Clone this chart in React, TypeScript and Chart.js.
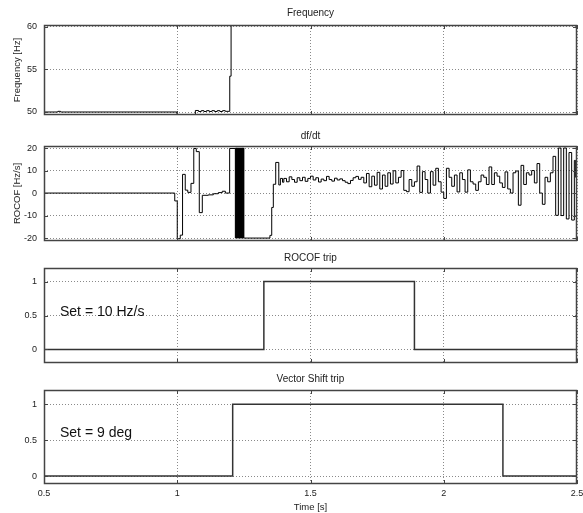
import React, { useEffect, useRef } from "react";
import { Chart, registerables } from "chart.js";

Chart.register(...registerables);

// ---------------- data ----------------
const timeTicks = [0.5, 1, 1.5, 2, 2.5];
const frequencyTicks = [50, 55, 60];
const rocofTicks = [-20, -10, 0, 10, 20];
const tripTicks = [0, 0.5, 1];

// [time s, frequency Hz] (value holds until next sample)
const frequencySamples: [number, number][] = [
  [0.5, 50.0], [0.552, 50.08], [0.562, 50.0], [0.999, 49.55], [1.055, 49.66], [1.068, 50.18],
  [1.08, 50.06], [1.09, 50.16], [1.1, 50.06], [1.11, 50.16], [1.12, 50.06], [1.13, 50.16],
  [1.14, 50.06], [1.15, 50.16], [1.16, 50.06], [1.17, 50.16], [1.18, 50.08], [1.197, 54.2],
  [1.202, 63.0],
];

// [time s, ROCOF Hz/s]
const rocofSamples: [number, number][] = [
  [0.5, 0], [0.9906, -3.5], [1.0, -20.3], [1.0113, -18.7], [1.0199, 8.3], [1.03, 1.3],
  [1.0395, 0.3], [1.0515, 4.3], [1.062, 19.8], [1.0714, 18.4], [1.0827, -8.7], [1.094, -1.0],
  [1.1165, -0.8], [1.1353, -0.3], [1.154, 0.2], [1.169, 0.8], [1.1805, 0.0], [1.1966, 19.8],
  [1.218, -20], [1.2195, 20], [1.221, -20], [1.2225, 20], [1.2245, -20], [1.226, 20],
  [1.2275, -20], [1.229, 20], [1.23, -20], [1.231, 20], [1.232, -20], [1.233, 20],
  [1.234, -20], [1.235, 20], [1.236, -20], [1.237, 20], [1.238, -20], [1.239, 20],
  [1.24, -20], [1.241, 20], [1.242, -20], [1.243, 20], [1.244, -20], [1.2455, 20],
  [1.247, -20], [1.2485, 20], [1.25, -20],
  [1.3477, -18.8], [1.3545, -6.4], [1.3605, 3.9], [1.3695, 13.6], [1.381, 3.6], [1.387, 6.5],
  [1.395, 4.8], [1.40, 6.5], [1.41, 5.0], [1.42, 7.2], [1.43, 6.0], [1.44, 4.8], [1.45, 6.8],
  [1.46, 5.5], [1.47, 7.0], [1.48, 5.2], [1.49, 6.5], [1.50, 7.5], [1.51, 5.8], [1.52, 6.8],
  [1.53, 4.9], [1.54, 6.2], [1.55, 5.5], [1.56, 7.4], [1.57, 6.0], [1.58, 5.3], [1.59, 6.6],
  [1.60, 5.8], [1.61, 6.3], [1.62, 5.5], [1.63, 4.8], [1.64, 4.2], [1.65, 5.6], [1.66, 6.8],
  [1.67, 7.4], [1.68, 6.1], [1.69, 7.0], [1.70, 4.5], [1.71, 8.7], [1.72, 2.8], [1.73, 7.5],
  [1.74, 3.5], [1.75, 9.2], [1.76, 1.8], [1.77, 8.0], [1.78, 3.0], [1.79, 9.0], [1.80, 4.0],
  [1.81, 9.9], [1.82, 4.5], [1.83, 7.0], [1.84, 10.0], [1.85, 1.2], [1.86, 0.6], [1.87, 6.0],
  [1.88, 3.0], [1.89, 5.0], [1.90, 12.0], [1.91, 0.3], [1.92, 9.5], [1.93, 6.0], [1.94, 0.0],
  [1.95, 9.5], [1.96, 3.5], [1.97, 11.0], [1.98, 5.0], [1.99, 0.4], [2.00, -2.4], [2.01, 11.0],
  [2.02, 7.0], [2.03, 3.0], [2.04, 8.0], [2.05, 0.5], [2.06, 9.0], [2.07, 6.0], [2.08, 0.4],
  [2.09, 10.3], [2.10, 5.0], [2.11, 4.0], [2.12, 1.2], [2.13, 5.0], [2.14, 8.0], [2.15, 7.0],
  [2.16, 3.8], [2.17, 11.6], [2.18, 3.8], [2.19, 9.0], [2.20, 7.5], [2.21, 4.5], [2.22, 2.5],
  [2.23, 9.4], [2.24, 1.8], [2.25, 0.0], [2.26, 9.0], [2.27, 9.8], [2.28, -5.4], [2.29, 12.3],
  [2.30, 3.8], [2.31, 9.0], [2.32, 8.0], [2.33, 10.0], [2.34, 4.5], [2.35, 13.1], [2.36, 0.0],
  [2.37, -5.0], [2.38, 7.0], [2.39, 5.0], [2.40, 9.0], [2.41, 16.3], [2.42, -9.9], [2.43, 20.0],
  [2.44, -10.0], [2.45, 20.0], [2.46, -11.5], [2.47, 18.0], [2.48, -12.0], [2.49, 14.5],
  [2.495, 7.0], [2.50, 12.0],
];

// [time s, trip signal]
const rocofTripSamples: [number, number][] = [[0.5, 0], [1.325, 1], [1.89, 0], [2.5, 0]];
const vectorShiftTripSamples: [number, number][] = [[0.5, 0], [1.208, 1], [2.222, 0], [2.5, 0]];

// ---------------- styling / layout ----------------
const FONT = "'Liberation Sans', Arial, Helvetica, sans-serif";
const TEXT = "#222";
const GRID = "#8a8a8a";
const FRAME = "#444";

type Spec = {
  title: string;
  samples: [number, number][];
  yMin: number;
  yMax: number;
  yTicks: number[];
  yTitle?: string;
  titleY: number;
  plotTop: number;
  plotBottom: number;
  lineColor: string;
  lineWidth: number;
  note?: { text: string; x: number; y: number };
  showTime?: boolean;
};

const specs: Spec[] = [
  {
    title: "Frequency", samples: frequencySamples, yMin: 49.65, yMax: 60.2, yTicks: frequencyTicks,
    yTitle: "Frequency [Hz]", titleY: 13, plotTop: 25, plotBottom: 115, lineColor: "#000", lineWidth: 1,
  },
  {
    title: "df/dt", samples: rocofSamples, yMin: -21.3, yMax: 20.9, yTicks: rocofTicks,
    yTitle: "ROCOF [Hz/s]", titleY: 136, plotTop: 146, plotBottom: 241, lineColor: "#000", lineWidth: 1,
  },
  {
    title: "ROCOF trip", samples: rocofTripSamples, yMin: -0.2, yMax: 1.2, yTicks: tripTicks,
    titleY: 258, plotTop: 268, plotBottom: 363, lineColor: "#333", lineWidth: 1.5,
    note: { text: "Set = 10 Hz/s", x: 0.56, y: 0.55 },
  },
  {
    title: "Vector Shift trip", samples: vectorShiftTripSamples, yMin: -0.11, yMax: 1.2, yTicks: tripTicks,
    titleY: 379, plotTop: 390, plotBottom: 484, lineColor: "#333", lineWidth: 1.5,
    note: { text: "Set = 9 deg", x: 0.56, y: 0.6 }, showTime: true,
  },
];

const framePlugin = {
  id: "frame",
  afterDatasetsDraw(chart: any, _args: any, opts: any) {
    const { ctx, chartArea: a, scales } = chart;
    ctx.save();
    ctx.strokeStyle = FRAME;
    ctx.lineWidth = 1;
    const tl = 4;
    ctx.beginPath();
    scales.x.ticks.forEach((t: any) => {
      const px = Math.round(scales.x.getPixelForValue(t.value)) + 0.5;
      ctx.moveTo(px, a.bottom);
      ctx.lineTo(px, a.bottom - tl);
      ctx.moveTo(px, a.top);
      ctx.lineTo(px, a.top + tl);
    });
    scales.y.ticks.forEach((t: any) => {
      const py = Math.round(scales.y.getPixelForValue(t.value)) + 0.5;
      ctx.moveTo(a.left, py);
      ctx.lineTo(a.left + tl, py);
      ctx.moveTo(a.right, py);
      ctx.lineTo(a.right - tl, py);
    });
    ctx.stroke();
    ctx.lineWidth = 1.5;
    ctx.strokeRect(Math.round(a.left) + 0.5, Math.round(a.top) + 0.5, Math.round(a.width) - 1, Math.round(a.height) - 1);
    if (opts && opts.note) {
      ctx.fillStyle = "#111";
      ctx.font = `14px ${FONT}`;
      ctx.textAlign = "left";
      ctx.textBaseline = "middle";
      ctx.fillText(opts.note.text, scales.x.getPixelForValue(opts.note.x), scales.y.getPixelForValue(opts.note.y));
    }
    ctx.restore();
  },
};

function Panel({ spec }: { spec: Spec }) {
  const ref = useRef<HTMLCanvasElement>(null);
  const canvasTop = spec.titleY - 8;
  const xAxisH = spec.showTime ? 29 : 0;
  const bottomPad = spec.showTime ? 0 : 6;
  const canvasH = spec.plotBottom + xAxisH + bottomPad - canvasTop;

  useEffect(() => {
    const chart = new Chart(ref.current as HTMLCanvasElement, {
      type: "line",
      data: {
        datasets: [
          {
            data: spec.samples.map(([x, y]) => ({ x, y })),
            borderColor: spec.lineColor,
            borderWidth: spec.lineWidth,
            pointRadius: 0,
            stepped: true,
            fill: false,
          },
        ],
      },
      options: {
        animation: false,
        responsive: false,
        devicePixelRatio: 1,
        events: [],
        layout: { padding: { left: 0, right: 6, top: 0, bottom: bottomPad } },
        plugins: {
          legend: { display: false },
          tooltip: { enabled: false },
          title: {
            display: true,
            text: spec.title,
            fullSize: false,
            color: TEXT,
            font: { family: FONT, size: 10, weight: "normal", lineHeight: 1.2 },
            padding: { top: 2, bottom: spec.plotTop - spec.titleY - 6 },
          },
          frame: { note: spec.note },
        } as any,
        scales: {
          x: {
            type: "linear",
            min: 0.5,
            max: 2.5,
            afterBuildTicks: (s: any) => {
              s.ticks = timeTicks.map((v) => ({ value: v }));
            },
            afterFit: (s: any) => {
              s.height = xAxisH;
              s.paddingLeft = 0;
              s.paddingRight = 0;
              s.paddingTop = 0;
              s.paddingBottom = 0;
            },
            grid: { color: GRID, lineWidth: 1, drawTicks: false },
            border: { display: false, dash: [1, 2] },
            ticks: {
              display: !!spec.showTime,
              autoSkip: false,
              maxRotation: 0,
              padding: 4,
              color: TEXT,
              font: { family: FONT, size: 9 },
              callback: (v: any) => String(v),
            },
            title: {
              display: !!spec.showTime,
              text: "Time [s]",
              color: TEXT,
              font: { family: FONT, size: 9.5 },
              padding: { top: 0, bottom: 0 },
            },
          },
          y: {
            type: "linear",
            min: spec.yMin,
            max: spec.yMax,
            afterBuildTicks: (s: any) => {
              s.ticks = spec.yTicks.map((v) => ({ value: v }));
            },
            afterFit: (s: any) => {
              s.width = 44;
              s.paddingTop = 0;
              s.paddingBottom = 0;
              s.paddingLeft = 0;
              s.paddingRight = 0;
            },
            grid: { color: GRID, lineWidth: 1, drawTicks: false },
            border: { display: false, dash: [1, 2] },
            ticks: {
              autoSkip: false,
              padding: 7,
              color: TEXT,
              font: { family: FONT, size: 9 },
              callback: (v: any) => String(v),
            },
            title: {
              display: !!spec.yTitle,
              text: spec.yTitle || "",
              color: TEXT,
              font: { family: FONT, size: 9.5 },
              padding: { top: 12, bottom: 0 },
            },
          },
        },
      } as any,
      plugins: [framePlugin as any],
    });
    return () => chart.destroy();
  }, []);

  return (
    <canvas
      ref={ref}
      width={583}
      height={canvasH}
      style={{ position: "absolute", left: 0, top: canvasTop, width: 583, height: canvasH, display: "block" }}
    />
  );
}

export default function App() {
  return (
    <div style={{ position: "absolute", left: 0, top: 0, width: 583, height: 513, background: "#fff", overflow: "hidden" }}>
      {specs.map((s) => (
        <Panel key={s.title} spec={s} />
      ))}
    </div>
  );
}
